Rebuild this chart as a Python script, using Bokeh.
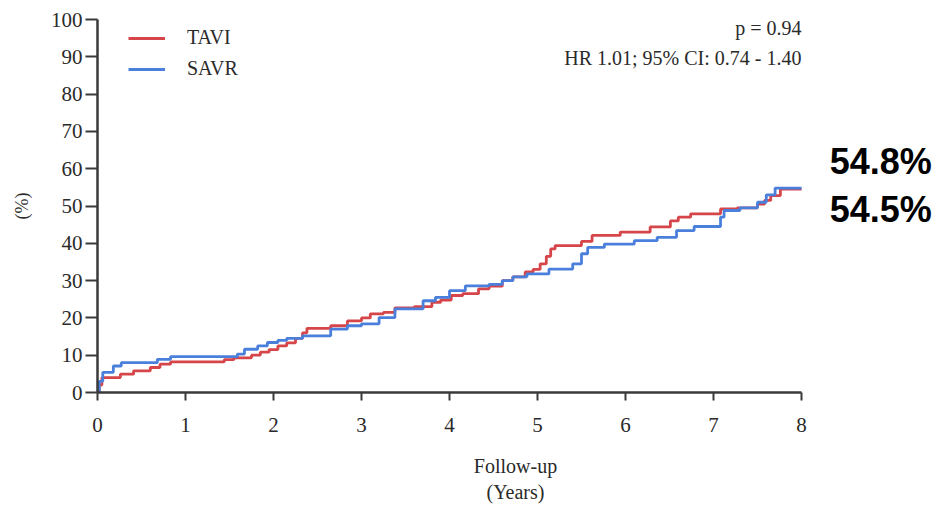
from bokeh.plotting import figure
from bokeh.models import Label, Legend, LegendItem, Range1d, FixedTicker
from bokeh.embed import file_html
from bokeh.resources import INLINE

# ---- data ----
tavi_t = [0, 0.02, 0.05, 0.26, 0.41, 0.60, 0.71, 0.83, 1.44, 1.55, 1.75, 1.85, 1.95, 2.05,
          2.15, 2.25, 2.33, 2.38, 2.65, 2.84, 3.00, 3.10, 3.25, 3.38, 3.60, 3.80, 3.90,
          4.02, 4.15, 4.33, 4.45, 4.60, 4.72, 4.86, 4.95, 5.03, 5.10, 5.15, 5.20, 5.50,
          5.62, 5.94, 6.28, 6.51, 6.60, 6.74, 7.08, 7.27, 7.50, 7.58, 7.65, 7.76, 8.00]
tavi_v = [0, 2.0, 4.0, 4.9, 5.8, 6.7, 7.6, 8.2, 8.8, 9.3, 10.0, 10.8, 11.5, 12.5,
          13.3, 14.5, 16.0, 17.2, 17.9, 19.2, 20.0, 21.1, 21.5, 22.7, 23.0, 24.2, 24.8,
          26.0, 26.5, 27.8, 28.5, 30.0, 31.0, 32.3, 33.0, 34.5, 36.5, 38.5, 39.4, 40.5,
          42.1, 43.0, 44.4, 46.0, 47.0, 47.9, 49.2, 49.5, 50.5, 51.5, 52.8, 54.5, 54.5]

savr_t = [0, 0.02, 0.06, 0.18, 0.27, 0.68, 0.83, 1.59, 1.67, 1.82, 1.93, 2.05, 2.15,
          2.33, 2.65, 2.84, 3.00, 3.20, 3.38, 3.70, 3.84, 4.00, 4.18, 4.45, 4.60, 4.72,
          4.88, 5.13, 5.40, 5.50, 5.57, 5.76, 6.10, 6.36, 6.58, 6.78, 7.08, 7.12, 7.30,
          7.50, 7.60, 7.70, 8.00]
savr_v = [0, 3.0, 5.4, 7.1, 8.0, 8.9, 9.6, 10.3, 11.6, 12.5, 13.4, 14.0, 14.5,
          15.2, 17.0, 17.9, 18.4, 20.1, 22.4, 24.6, 25.5, 27.3, 28.6, 29.0, 30.0, 31.0,
          31.8, 33.1, 34.5, 37.2, 38.9, 39.8, 40.7, 41.6, 43.4, 44.5, 47.0, 48.8, 49.5,
          51.0, 53.0, 54.8, 54.8]

x_ticks = [0, 1, 2, 3, 4, 5, 6, 7, 8]
y_ticks = [0, 10, 20, 30, 40, 50, 60, 70, 80, 90, 100]
series_names = ["TAVI", "SAVR"]
end_labels = ["54.8%", "54.5%"]
end_label_y = [61.9, 49.1]
stats_lines = ["p = 0.94", "HR 1.01; 95% CI: 0.74 - 1.40"]

RED = "#d6454a"
BLUE = "#4a80dc"
SERIF = "Liberation Serif"
AX = "#3a3a3a"

# frame: x from 0 (axis) to 9.5 so that the right-hand labels sit inside the frame;
# the axis itself is bounded to 0..8
p = figure(width=933, height=508, output_backend="svg", toolbar_location=None,
           x_range=Range1d(0, 9.5), y_range=Range1d(0, 100),
           min_border_left=97, min_border_right=0, min_border_top=19, min_border_bottom=116)
p.outline_line_color = None
p.xgrid.grid_line_color = None
p.ygrid.grid_line_color = None
p.background_fill_color = "white"

r_tavi = p.step(tavi_t, tavi_v, mode="after", line_color=RED, line_width=2.8)
r_savr = p.step(savr_t, savr_v, mode="after", line_color=BLUE, line_width=2.8)

for ax in (p.xaxis[0], p.yaxis[0]):
    ax.axis_line_color = AX
    ax.axis_line_width = 2.5
    ax.major_tick_line_color = AX
    ax.major_tick_line_width = 2
    ax.minor_tick_line_color = None
    ax.major_tick_in = 0
    ax.major_label_text_font = SERIF
    ax.major_label_text_font_size = "21px"
    ax.major_label_text_color = "#2a2a2a"
    ax.axis_label_text_font = SERIF
    ax.axis_label_text_font_style = "normal"
    ax.axis_label_text_color = "#2a2a2a"

p.xaxis.bounds = (0, 8)
p.xaxis.ticker = FixedTicker(ticks=x_ticks)
p.yaxis.ticker = FixedTicker(ticks=y_ticks)
p.xaxis.major_tick_out = 8
p.xaxis.major_label_standoff = 17
p.xaxis.axis_label = "Follow-up\n(Years)"
p.xaxis.axis_label_text_font_size = "20px"
p.xaxis.axis_label_standoff = 20
p.yaxis.major_tick_out = 12
p.yaxis.major_label_standoff = 3
p.yaxis.axis_label = "(%)"
p.yaxis.axis_label_text_font_size = "18px"
p.yaxis.axis_label_standoff = 16

legend = Legend(items=[LegendItem(label=series_names[0], renderers=[r_tavi]),
                       LegendItem(label=series_names[1], renderers=[r_savr])],
                location=(31, 312), orientation="vertical")
legend.border_line_color = None
legend.background_fill_alpha = 0
legend.padding = 0
legend.margin = 0
legend.spacing = 8
legend.glyph_width = 37
legend.glyph_height = 20
legend.label_height = 20
legend.label_standoff = 22
legend.label_text_font = SERIF
legend.label_text_font_size = "20px"
legend.label_text_color = "#2a2a2a"
p.add_layout(legend)

for i, txt in enumerate(stats_lines):
    p.add_layout(Label(x=8, y=97.6 - 7.8 * i, text=txt, text_align="right",
                       text_baseline="middle", text_font=SERIF, text_font_size="20px",
                       text_color="#2a2a2a"))

for txt, yy in zip(end_labels, end_label_y):
    p.add_layout(Label(x=8.32, y=yy, text=txt, text_align="left",
                       text_baseline="middle", text_font="Liberation Sans",
                       text_font_style="bold", text_font_size="36px", text_color="black"))

open("out.html", "w").write(file_html(p, INLINE))
